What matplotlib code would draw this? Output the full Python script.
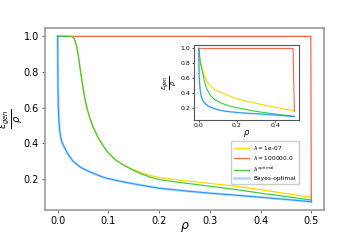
import matplotlib
matplotlib.use('Agg')
import matplotlib.pyplot as plt

# ---- main panel data ----
rho_yellow = [0.0, 0.022, 0.026, 0.029, 0.032, 0.035, 0.038, 0.041, 0.044, 0.047, 0.050, 0.054,
              0.058, 0.063, 0.070, 0.080, 0.090, 0.100, 0.115, 0.130, 0.145, 0.162, 0.182, 0.20,
              0.25, 0.30, 0.35, 0.40, 0.45, 0.50]
eps_yellow = [1.0, 1.0, 0.999, 0.997, 0.99, 0.97, 0.935, 0.885, 0.825, 0.765, 0.71, 0.645,
              0.595, 0.545, 0.49, 0.43, 0.385, 0.345, 0.305, 0.278, 0.258, 0.238, 0.219, 0.208,
              0.19, 0.175, 0.159, 0.14, 0.118, 0.097]

rho_red = [0.0, 0.499, 0.5]
eps_red = [1.0, 1.0, 0.072]

rho_green = [0.0, 0.022, 0.026, 0.029, 0.032, 0.035, 0.038, 0.041, 0.044, 0.047, 0.050, 0.054,
             0.058, 0.063, 0.070, 0.080, 0.090, 0.100, 0.115, 0.130, 0.145, 0.162, 0.182, 0.20,
             0.25, 0.30, 0.35, 0.40, 0.45, 0.50]
eps_green = [1.0, 1.0, 0.999, 0.997, 0.99, 0.97, 0.935, 0.885, 0.825, 0.765, 0.71, 0.645,
             0.595, 0.545, 0.49, 0.43, 0.385, 0.345, 0.305, 0.277, 0.255, 0.232, 0.21, 0.196,
             0.177, 0.159, 0.141, 0.120, 0.101, 0.082]

rho_bayes = [0.0, 0.0003, 0.0007, 0.0012, 0.002, 0.003, 0.004, 0.006, 0.008, 0.011, 0.014, 0.020,
             0.030, 0.045, 0.063, 0.080, 0.096, 0.13, 0.162, 0.20, 0.25, 0.30, 0.346, 0.40, 0.45, 0.50]
eps_bayes = [1.0, 0.85, 0.69, 0.61, 0.55, 0.505, 0.47, 0.435, 0.41, 0.39, 0.373, 0.34,
             0.30, 0.265, 0.24, 0.22, 0.204, 0.183, 0.166, 0.148, 0.133, 0.12, 0.11, 0.097, 0.085, 0.072]

# ---- inset data ----
in_rho_yellow = [0.0, 0.002, 0.005, 0.010, 0.015, 0.021, 0.030, 0.039, 0.050, 0.060, 0.075, 0.100,
                 0.137, 0.170, 0.217, 0.26, 0.30, 0.35, 0.40, 0.45, 0.50]
in_eps_yellow = [1.0, 0.95, 0.89, 0.82, 0.76, 0.708, 0.63, 0.573, 0.53, 0.495, 0.46, 0.42,
                 0.383, 0.345, 0.305, 0.28, 0.258, 0.23, 0.205, 0.18, 0.155]

in_rho_red = [0.0, 0.493, 0.5]
in_eps_red = [1.0, 1.0, 0.146]

in_rho_green = [0.0, 0.002, 0.005, 0.010, 0.015, 0.021, 0.030, 0.039, 0.050, 0.060, 0.075, 0.100,
                0.128, 0.170, 0.217, 0.26, 0.306, 0.35, 0.395, 0.45, 0.50]
in_eps_green = [1.0, 0.94, 0.87, 0.78, 0.72, 0.66, 0.55, 0.47, 0.41, 0.37, 0.326, 0.28,
                0.25, 0.215, 0.19, 0.167, 0.146, 0.13, 0.115, 0.097, 0.08]

in_rho_bayes = [0.0, 0.0005, 0.001, 0.002, 0.004, 0.007, 0.013, 0.020, 0.030, 0.050, 0.075, 0.100,
                0.128, 0.170, 0.217, 0.26, 0.306, 0.35, 0.395, 0.45, 0.50]
in_eps_bayes = [1.0, 0.82, 0.70, 0.61, 0.53, 0.44, 0.35, 0.30, 0.26, 0.22, 0.19, 0.17,
                0.155, 0.141, 0.13, 0.122, 0.115, 0.108, 0.10, 0.089, 0.078]

labels = ['$\\lambda = $1e-07', '$\\lambda = $100000.0', '$\\lambda^{optimal}$', 'Bayes-optimal']
c_yellow, c_red, c_green, c_blue = '#ffd700', '#ff6347', '#3ccc3c', '#1e90ff'

fig = plt.figure(figsize=(3.6, 2.4), dpi=100)
ax = fig.add_axes([0.125, 0.125, 0.775, 0.758])

ax.plot(rho_yellow, eps_yellow, color=c_yellow, lw=0.9, label=labels[0])
ax.plot(rho_red, eps_red, color=c_red, lw=0.9, label=labels[1])
ax.plot(rho_green, eps_green, color=c_green, lw=0.9, label=labels[2])
ax.plot(rho_bayes, eps_bayes, color=c_blue, lw=1.8, alpha=0.35, label=labels[3])
ax.plot(rho_bayes, eps_bayes, color=c_blue, lw=0.7)

ax.set_xlabel('$\\rho$', fontsize=9)
ax.xaxis.set_label_coords(0.5, -0.055)
ax.set_ylabel('$\\frac{\\epsilon_{gen}}{\\rho}$', fontsize=10)
ax.yaxis.set_label_coords(-0.07, 0.5)
ax.tick_params(labelsize=7, length=2.5, width=0.6, pad=2, color='#555555')
for sp in ax.spines.values():
    sp.set_color('#999999')
    sp.set_linewidth(1.2)

ax.legend(loc='lower right', bbox_to_anchor=(0.92, 0.125), fontsize=4.2,
          handlelength=2.6, borderpad=0.5, labelspacing=0.4, framealpha=1)

# inset
ins = fig.add_axes([0.539, 0.5, 0.292, 0.3125])
ins.plot(in_rho_yellow, in_eps_yellow, color=c_yellow, lw=0.8)
ins.plot(in_rho_red, in_eps_red, color=c_red, lw=0.8)
ins.plot(in_rho_green, in_eps_green, color=c_green, lw=0.8)
ins.plot(in_rho_bayes, in_eps_bayes, color=c_blue, lw=1.4, alpha=0.35)
ins.plot(in_rho_bayes, in_eps_bayes, color=c_blue, lw=0.6)
ins.set_xlabel('$\\rho$', fontsize=6, labelpad=0)
ins.set_ylabel('$\\frac{\\epsilon_{gen}}{\\rho}$', fontsize=7, labelpad=1)
ins.tick_params(labelsize=4.5, length=1.5, width=0.5, pad=1)
for sp in ins.spines.values():
    sp.set_color('#555555')
    sp.set_linewidth(0.8)

fig.savefig('out.png', dpi=100)
